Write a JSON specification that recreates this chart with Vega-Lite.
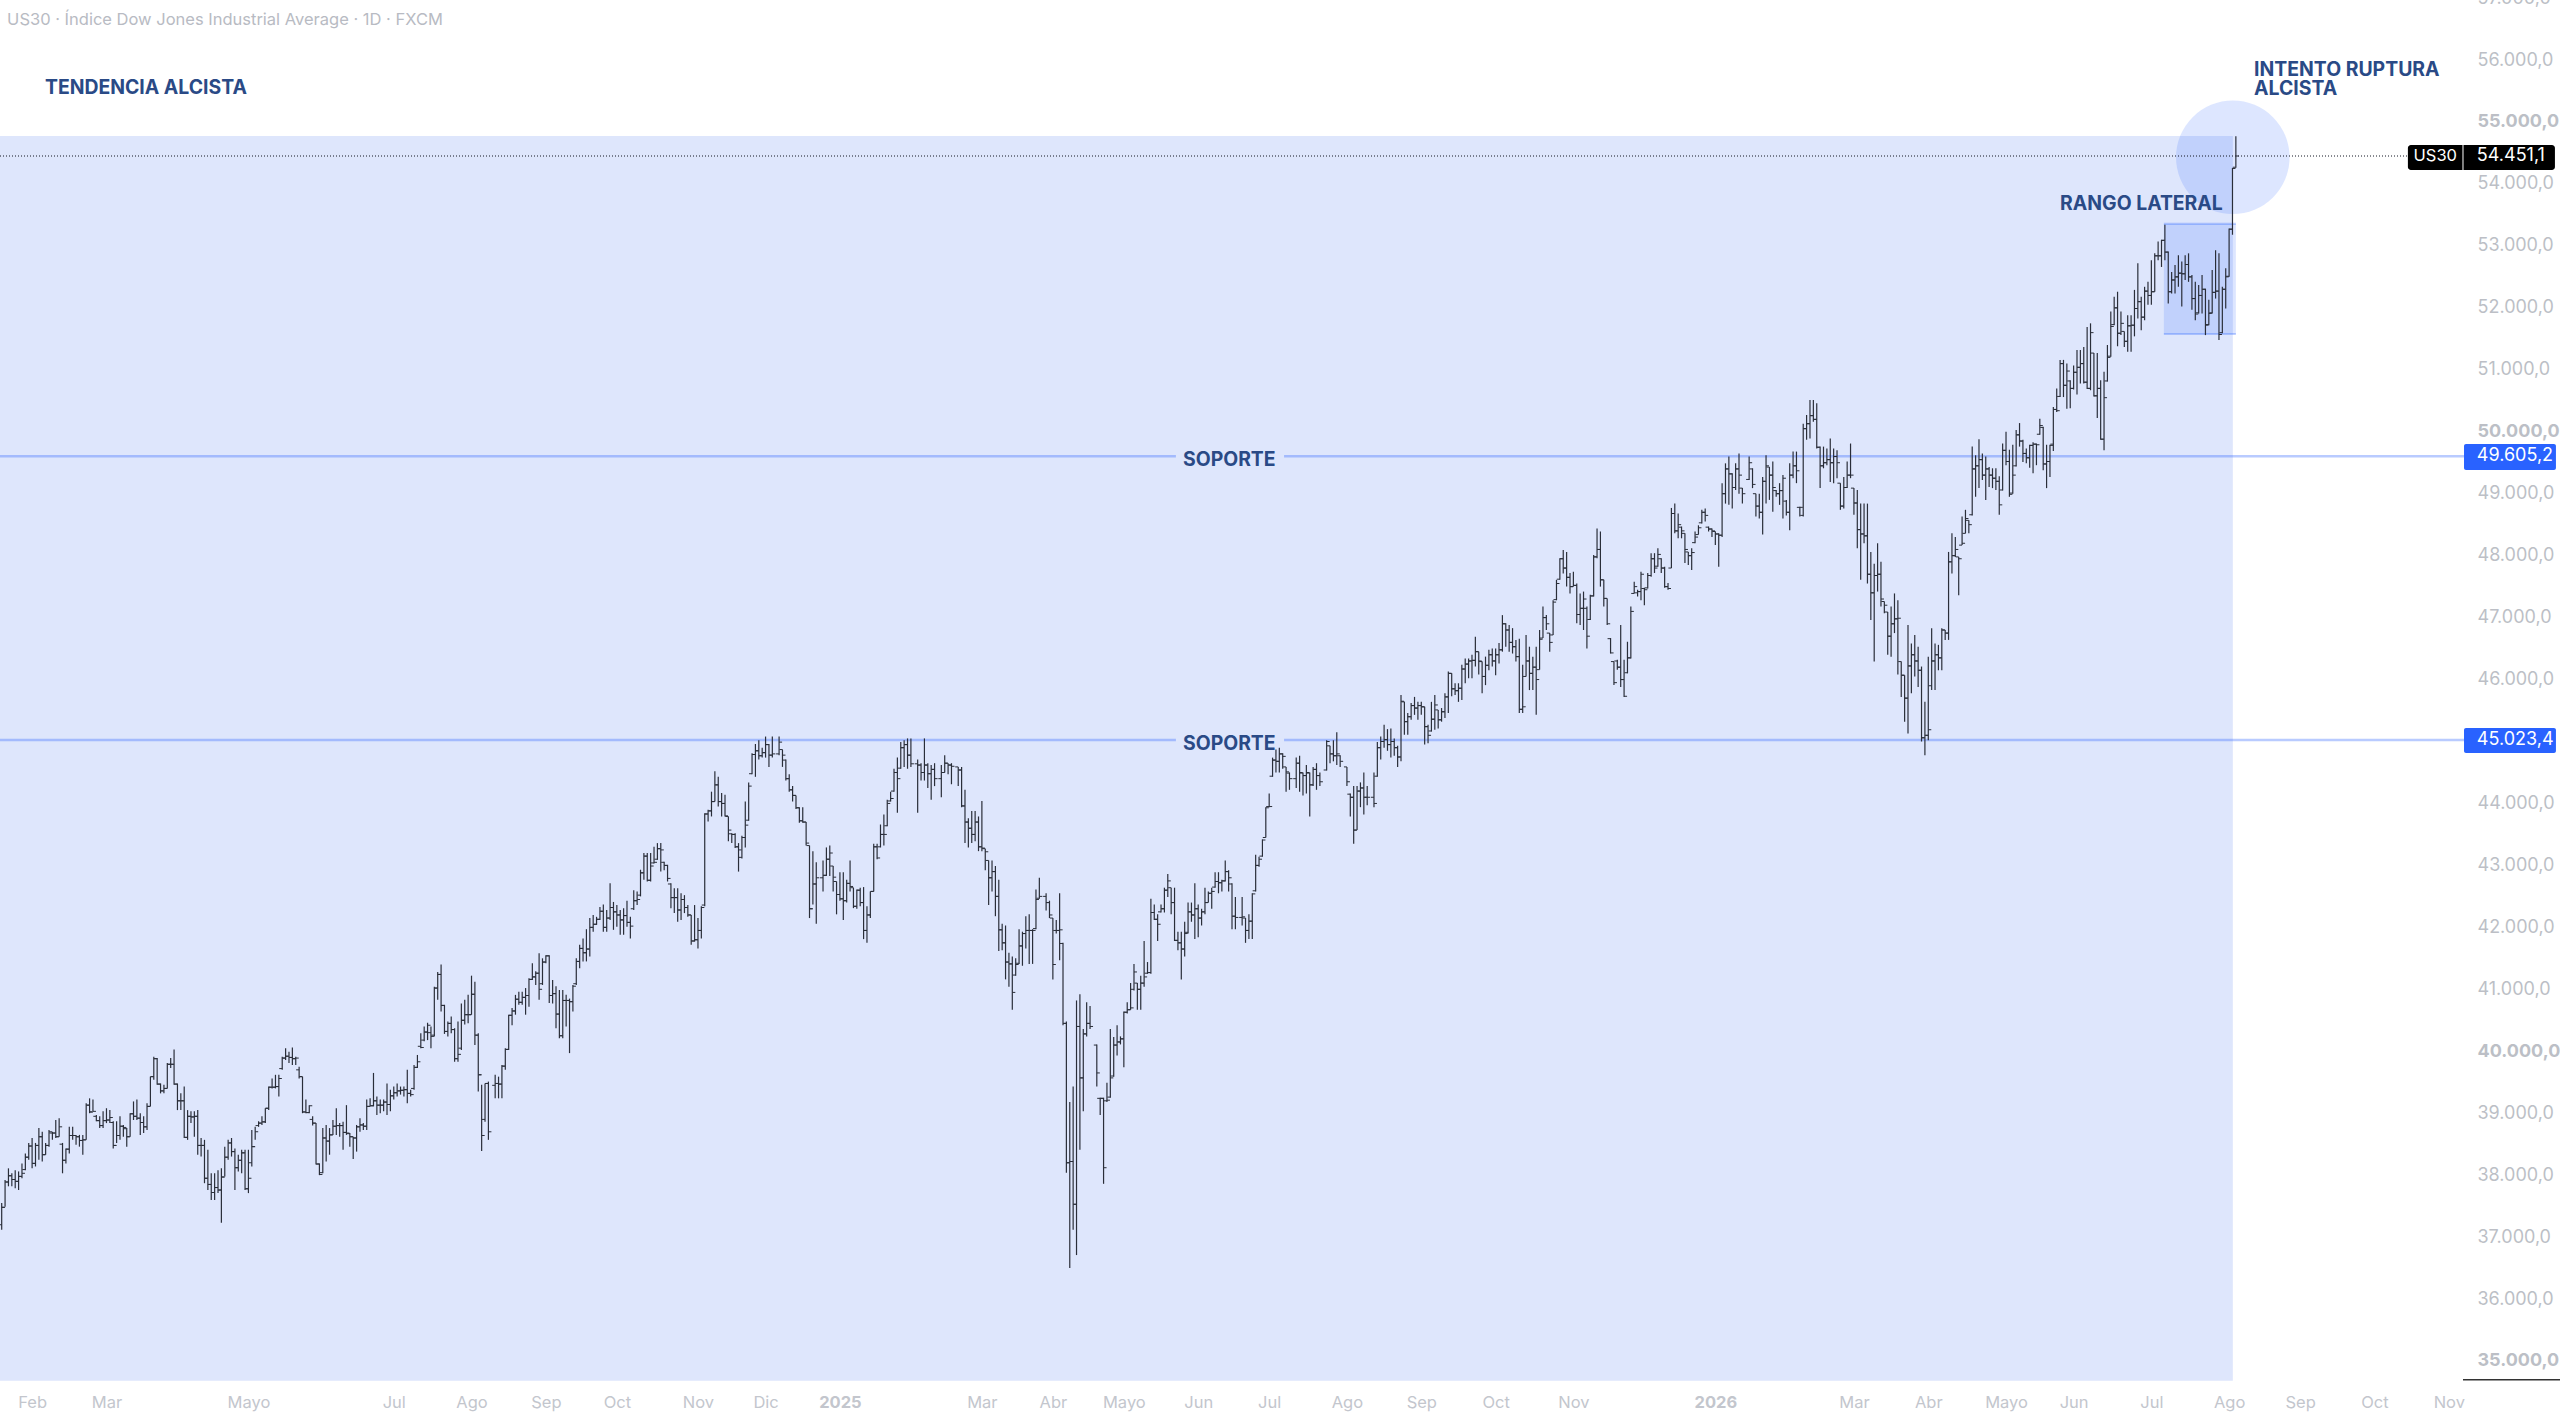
{
"$schema":"https://vega.github.io/schema/vega-lite/v6.json",
"width":2560,"height":1417,"padding":0,"autosize":{"type":"none"},
"background":"#ffffff",
"config":{"view":{"stroke":null},"font":"Inter"},
"datasets":{
"bars":[
{"b":0,"o":37200,"h":37550,"l":37120,"c":37480},
{"b":1,"o":37480,"h":37920,"l":37490,"c":37890},
{"b":2,"o":37890,"h":38110,"l":37820,"c":37990},
{"b":3,"o":37990,"h":38030,"l":37820,"c":37930},
{"b":4,"o":37930,"h":38080,"l":37790,"c":37900},
{"b":5,"o":37900,"h":38060,"l":37760,"c":37980},
{"b":6,"o":37980,"h":38190,"l":37950,"c":38030},
{"b":7,"o":38090,"h":38350,"l":38080,"c":38290},
{"b":8,"o":38290,"h":38520,"l":38250,"c":38470},
{"b":9,"o":38470,"h":38600,"l":38110,"c":38190},
{"b":10,"o":38190,"h":38520,"l":38140,"c":38480},
{"b":11,"o":38480,"h":38760,"l":38250,"c":38620},
{"b":12,"o":38620,"h":38700,"l":38220,"c":38330},
{"b":13,"o":38330,"h":38520,"l":38330,"c":38480},
{"b":14,"o":38480,"h":38730,"l":38460,"c":38700},
{"b":15,"o":38680,"h":38700,"l":38570,"c":38680},
{"b":16,"o":38680,"h":38890,"l":38600,"c":38620},
{"b":17,"o":38620,"h":38920,"l":38620,"c":38780},
{"b":18,"o":38500,"h":38520,"l":38030,"c":38240},
{"b":19,"o":38240,"h":38430,"l":38190,"c":38420},
{"b":20,"o":38420,"h":38780,"l":38350,"c":38640},
{"b":21,"o":38640,"h":38780,"l":38570,"c":38640},
{"b":22,"o":38640,"h":38650,"l":38490,"c":38620},
{"b":23,"o":38620,"h":38650,"l":38460,"c":38560},
{"b":24,"o":38560,"h":38650,"l":38330,"c":38570},
{"b":25,"o":38570,"h":39160,"l":38570,"c":39130},
{"b":26,"o":39130,"h":39240,"l":39000,"c":39020},
{"b":27,"o":39020,"h":39220,"l":39030,"c":39030},
{"b":28,"o":38950,"h":38970,"l":38870,"c":38880},
{"b":29,"o":38880,"h":38950,"l":38760,"c":38800},
{"b":30,"o":38800,"h":39030,"l":38760,"c":38880},
{"b":31,"o":38880,"h":39080,"l":38840,"c":38890},
{"b":32,"o":38890,"h":39050,"l":38840,"c":38930},
{"b":33,"o":38850,"h":38870,"l":38430,"c":38480},
{"b":34,"o":38480,"h":38870,"l":38520,"c":38640},
{"b":35,"o":38640,"h":38950,"l":38570,"c":38790},
{"b":36,"o":38790,"h":38810,"l":38620,"c":38770},
{"b":37,"o":38750,"h":38760,"l":38460,"c":38620},
{"b":38,"o":38620,"h":39000,"l":38620,"c":38990},
{"b":39,"o":38990,"h":39190,"l":38890,"c":38950},
{"b":40,"o":38950,"h":39220,"l":38890,"c":38920},
{"b":41,"o":38920,"h":39000,"l":38650,"c":38850},
{"b":42,"o":38850,"h":38950,"l":38680,"c":38780},
{"b":43,"o":38780,"h":39160,"l":38730,"c":39110},
{"b":44,"o":39110,"h":39590,"l":39110,"c":39590},
{"b":45,"o":39590,"h":39910,"l":39540,"c":39880},
{"b":46,"o":39880,"h":39890,"l":39460,"c":39470},
{"b":47,"o":39470,"h":39480,"l":39320,"c":39360},
{"b":48,"o":39360,"h":39460,"l":39320,"c":39400},
{"b":49,"o":39400,"h":39810,"l":39400,"c":39790},
{"b":50,"o":39790,"h":39890,"l":39730,"c":39790},
{"b":51,"o":39790,"h":40030,"l":39460,"c":39470},
{"b":52,"o":39470,"h":39480,"l":39050,"c":39200},
{"b":53,"o":39200,"h":39320,"l":39050,"c":39200},
{"b":54,"o":39200,"h":39430,"l":38600,"c":38610},
{"b":55,"o":38610,"h":39050,"l":38570,"c":38950},
{"b":56,"o":38950,"h":39030,"l":38840,"c":38940},
{"b":57,"o":38940,"h":39030,"l":38620,"c":38950},
{"b":58,"o":38950,"h":39050,"l":38330,"c":38480},
{"b":59,"o":38480,"h":38600,"l":38300,"c":38480},
{"b":60,"o":38480,"h":38570,"l":37870,"c":37950},
{"b":61,"o":37950,"h":38410,"l":37760,"c":37850},
{"b":62,"o":37850,"h":38030,"l":37600,"c":37720},
{"b":63,"o":37720,"h":38030,"l":37600,"c":37800},
{"b":64,"o":37800,"h":38080,"l":37710,"c":37760},
{"b":65,"o":37760,"h":38110,"l":37230,"c":37970},
{"b":66,"o":37970,"h":38460,"l":37980,"c":38290},
{"b":67,"o":38290,"h":38570,"l":38250,"c":38520},
{"b":68,"o":38520,"h":38600,"l":38300,"c":38380},
{"b":69,"o":38380,"h":38430,"l":37760,"c":38120},
{"b":70,"o":38120,"h":38330,"l":38060,"c":38240},
{"b":71,"o":38240,"h":38410,"l":38030,"c":38360},
{"b":72,"o":38360,"h":38410,"l":37760,"c":37780},
{"b":73,"o":37780,"h":38410,"l":37710,"c":37950},
{"b":74,"o":38200,"h":38730,"l":38140,"c":38460},
{"b":75,"o":38460,"h":38780,"l":38570,"c":38700},
{"b":76,"o":38800,"h":38870,"l":38780,"c":38840},
{"b":77,"o":38840,"h":38950,"l":38810,"c":38860},
{"b":78,"o":38860,"h":39080,"l":38840,"c":39080},
{"b":79,"o":39080,"h":39430,"l":39050,"c":39420},
{"b":80,"o":39420,"h":39560,"l":39400,"c":39420},
{"b":81,"o":39420,"h":39620,"l":39400,"c":39430},
{"b":82,"o":39430,"h":39620,"l":39270,"c":39560},
{"b":83,"o":39720,"h":39910,"l":39700,"c":39890},
{"b":84,"o":39890,"h":40050,"l":39860,"c":39920},
{"b":85,"o":39920,"h":39990,"l":39810,"c":39900},
{"b":86,"o":39900,"h":40060,"l":39780,"c":39880},
{"b":87,"o":39880,"h":39910,"l":39780,"c":39890},
{"b":88,"o":39700,"h":39750,"l":39560,"c":39590},
{"b":89,"o":39590,"h":39590,"l":39000,"c":39020},
{"b":90,"o":39020,"h":39220,"l":39000,"c":39010},
{"b":91,"o":39010,"h":39130,"l":39000,"c":39120},
{"b":92,"o":38900,"h":38950,"l":38800,"c":38840},
{"b":93,"o":38840,"h":38840,"l":38170,"c":38180},
{"b":94,"o":38180,"h":38190,"l":38000,"c":38010},
{"b":95,"o":38040,"h":38760,"l":38030,"c":38600},
{"b":96,"o":38600,"h":38810,"l":38220,"c":38550},
{"b":97,"o":38550,"h":38760,"l":38330,"c":38650},
{"b":98,"o":38650,"h":38890,"l":38650,"c":38790},
{"b":99,"o":38790,"h":39080,"l":38650,"c":38800},
{"b":100,"o":38800,"h":38840,"l":38620,"c":38800},
{"b":101,"o":38800,"h":38860,"l":38410,"c":38690},
{"b":102,"o":38690,"h":39130,"l":38650,"c":38680},
{"b":103,"o":38670,"h":38680,"l":38460,"c":38620},
{"b":104,"o":38620,"h":38620,"l":38260,"c":38600},
{"b":105,"o":38600,"h":38810,"l":38380,"c":38780},
{"b":106,"o":38780,"h":38920,"l":38700,"c":38810},
{"b":107,"o":38810,"h":38840,"l":38730,"c":38790},
{"b":108,"o":38790,"h":39220,"l":38730,"c":39110},
{"b":109,"o":39110,"h":39240,"l":39110,"c":39120},
{"b":110,"o":39120,"h":39650,"l":39110,"c":39200},
{"b":111,"o":39200,"h":39270,"l":38970,"c":39130},
{"b":112,"o":39130,"h":39220,"l":39000,"c":39130},
{"b":113,"o":39130,"h":39220,"l":39030,"c":39180},
{"b":114,"o":39180,"h":39480,"l":38970,"c":39140},
{"b":115,"o":39140,"h":39380,"l":39030,"c":39280},
{"b":116,"o":39280,"h":39430,"l":39220,"c":39330},
{"b":117,"o":39330,"h":39480,"l":39270,"c":39360},
{"b":118,"o":39360,"h":39430,"l":39300,"c":39370},
{"b":119,"o":39370,"h":39430,"l":39270,"c":39380},
{"b":120,"o":39380,"h":39700,"l":39160,"c":39320},
{"b":121,"o":39320,"h":39380,"l":39270,"c":39300},
{"b":122,"o":39400,"h":39780,"l":39380,"c":39740},
{"b":123,"o":39740,"h":39940,"l":39730,"c":39830},
{"b":124,"o":40080,"h":40290,"l":40050,"c":40060},
{"b":125,"o":40180,"h":40400,"l":40160,"c":40310},
{"b":126,"o":40310,"h":40460,"l":40180,"c":40420},
{"b":127,"o":40300,"h":40400,"l":40050,"c":40240},
{"b":128,"o":40260,"h":41040,"l":40240,"c":41020},
{"b":129,"o":41020,"h":41280,"l":40830,"c":41240},
{"b":130,"o":41240,"h":41400,"l":40640,"c":40740},
{"b":131,"o":40740,"h":40750,"l":40280,"c":40320},
{"b":132,"o":40320,"h":40480,"l":40240,"c":40450},
{"b":133,"o":40450,"h":40560,"l":40290,"c":40350},
{"b":134,"o":40350,"h":40370,"l":39830,"c":39880},
{"b":135,"o":39880,"h":40480,"l":39830,"c":39950},
{"b":136,"o":40050,"h":40770,"l":40020,"c":40500},
{"b":137,"o":40500,"h":40830,"l":40430,"c":40590},
{"b":138,"o":40590,"h":40910,"l":40450,"c":40590},
{"b":139,"o":40590,"h":41220,"l":40590,"c":40920},
{"b":140,"o":40920,"h":41120,"l":40100,"c":40260},
{"b":141,"o":40260,"h":40290,"l":39350,"c":39620},
{"b":142,"o":39620,"h":39460,"l":38390,"c":38640},
{"b":143,"o":38900,"h":39480,"l":38860,"c":39480},
{"b":144,"o":39480,"h":39510,"l":38570,"c":38700},
{"b":146,"o":39450,"h":39620,"l":39240,"c":39480},
{"b":147,"o":39480,"h":39590,"l":39240,"c":39470},
{"b":148,"o":39470,"h":39780,"l":39240,"c":39760},
{"b":149,"o":39760,"h":40050,"l":39700,"c":40030},
{"b":150,"o":40030,"h":40590,"l":40020,"c":40580},
{"b":151,"o":40580,"h":40700,"l":40420,"c":40650},
{"b":152,"o":40650,"h":40910,"l":40590,"c":40840},
{"b":153,"o":40840,"h":40960,"l":40750,"c":40790},
{"b":154,"o":40790,"h":40960,"l":40750,"c":40870},
{"b":155,"o":40870,"h":41020,"l":40590,"c":40900},
{"b":156,"o":40900,"h":41180,"l":40720,"c":41160},
{"b":157,"o":41160,"h":41420,"l":41150,"c":41200},
{"b":158,"o":41200,"h":41290,"l":41070,"c":41260},
{"b":159,"o":41260,"h":41580,"l":40830,"c":41000},
{"b":160,"o":41090,"h":41500,"l":41070,"c":41440},
{"b":161,"o":41440,"h":41550,"l":41420,"c":41540},
{"b":162,"o":41540,"h":41550,"l":40780,"c":40900},
{"b":163,"o":40900,"h":41150,"l":40770,"c":40930},
{"b":164,"o":40930,"h":41050,"l":40370,"c":40600},
{"b":165,"o":40600,"h":40990,"l":40210,"c":40250},
{"b":166,"o":40250,"h":40990,"l":40210,"c":40820},
{"b":167,"o":40820,"h":40910,"l":40400,"c":40820},
{"b":168,"o":40820,"h":40850,"l":39970,"c":40800},
{"b":169,"o":40800,"h":41070,"l":40640,"c":41050},
{"b":170,"o":41090,"h":41500,"l":41070,"c":41450},
{"b":171,"o":41450,"h":41720,"l":41340,"c":41660},
{"b":172,"o":41660,"h":41820,"l":41450,"c":41590},
{"b":173,"o":41590,"h":41970,"l":41450,"c":41650},
{"b":174,"o":41650,"h":42150,"l":41530,"c":42000},
{"b":175,"o":42000,"h":42200,"l":41930,"c":42050},
{"b":176,"o":42050,"h":42170,"l":42040,"c":42130},
{"b":177,"o":42130,"h":42330,"l":42120,"c":42260},
{"b":178,"o":42260,"h":42370,"l":41930,"c":42000},
{"b":179,"o":42000,"h":42280,"l":41930,"c":42150},
{"b":180,"o":42150,"h":42710,"l":42120,"c":42320},
{"b":181,"o":42320,"h":42410,"l":41960,"c":42250},
{"b":182,"o":42250,"h":42360,"l":42010,"c":42200},
{"b":183,"o":42200,"h":42280,"l":41880,"c":42120},
{"b":184,"o":42120,"h":42310,"l":41880,"c":42190},
{"b":185,"o":42190,"h":42430,"l":42010,"c":42080},
{"b":186,"o":42080,"h":42170,"l":41820,"c":42020},
{"b":187,"o":42300,"h":42600,"l":42280,"c":42430},
{"b":188,"o":42430,"h":42580,"l":42360,"c":42450},
{"b":189,"o":42520,"h":42930,"l":42500,"c":42880},
{"b":190,"o":42880,"h":43200,"l":42770,"c":43150},
{"b":191,"o":43150,"h":43200,"l":42740,"c":42760},
{"b":192,"o":42760,"h":43200,"l":42740,"c":42990},
{"b":193,"o":43040,"h":43300,"l":43030,"c":43050},
{"b":194,"o":43100,"h":43360,"l":43090,"c":43270},
{"b":195,"o":43270,"h":43360,"l":42900,"c":43250},
{"b":196,"o":43050,"h":43060,"l":42920,"c":43000},
{"b":197,"o":43000,"h":43010,"l":42740,"c":42790},
{"b":198,"o":42700,"h":42710,"l":42310,"c":42480},
{"b":199,"o":42480,"h":42630,"l":42230,"c":42480},
{"b":200,"o":42480,"h":42630,"l":42090,"c":42280},
{"b":201,"o":42280,"h":42550,"l":42120,"c":42450},
{"b":202,"o":42450,"h":42520,"l":42230,"c":42320},
{"b":203,"o":42320,"h":42360,"l":42170,"c":42200},
{"b":204,"o":42200,"h":42200,"l":41720,"c":41780},
{"b":205,"o":41780,"h":42360,"l":41770,"c":41800},
{"b":206,"o":41800,"h":42150,"l":41660,"c":41950},
{"b":207,"o":41950,"h":42340,"l":41820,"c":42320},
{"b":208,"o":42360,"h":43840,"l":42340,"c":43830},
{"b":209,"o":43830,"h":43900,"l":43710,"c":43880},
{"b":210,"o":43880,"h":44190,"l":43790,"c":44030},
{"b":211,"o":44030,"h":44520,"l":44030,"c":44300},
{"b":212,"o":44300,"h":44430,"l":43950,"c":44030},
{"b":213,"o":44030,"h":44170,"l":43790,"c":44000},
{"b":214,"o":44000,"h":44140,"l":43790,"c":43800},
{"b":215,"o":43790,"h":43790,"l":43390,"c":43570},
{"b":216,"o":43510,"h":43520,"l":43360,"c":43500},
{"b":217,"o":43500,"h":43520,"l":43280,"c":43300},
{"b":218,"o":43300,"h":43360,"l":42900,"c":43250},
{"b":219,"o":43130,"h":43480,"l":43110,"c":43450},
{"b":220,"o":43450,"h":44030,"l":43290,"c":43650},
{"b":221,"o":43730,"h":44340,"l":43720,"c":44280},
{"b":222,"o":44480,"h":44810,"l":44470,"c":44790},
{"b":223,"o":44790,"h":44960,"l":44430,"c":44850},
{"b":224,"o":44850,"h":45020,"l":44710,"c":44770},
{"b":225,"o":44770,"h":44900,"l":44740,"c":44820},
{"b":226,"o":44820,"h":45080,"l":44740,"c":44950},
{"b":227,"o":44950,"h":44960,"l":44590,"c":44780},
{"b":228,"o":44780,"h":45080,"l":44740,"c":44800},
{"b":230,"o":44800,"h":45080,"l":44780,"c":44990},
{"b":231,"o":44870,"h":44870,"l":44590,"c":44780},
{"b":232,"o":44700,"h":44710,"l":44370,"c":44400},
{"b":233,"o":44400,"h":44470,"l":44190,"c":44220},
{"b":234,"o":44220,"h":44280,"l":44030,"c":44130},
{"b":235,"o":44130,"h":44130,"l":43910,"c":43930},
{"b":236,"o":43930,"h":43940,"l":43690,"c":43720},
{"b":237,"o":43720,"h":43940,"l":43690,"c":43700},
{"b":238,"o":43700,"h":43700,"l":43320,"c":43360},
{"b":239,"o":43320,"h":43320,"l":42150,"c":42300},
{"b":240,"o":42300,"h":43230,"l":42370,"c":42700},
{"b":241,"o":42700,"h":43050,"l":42060,"c":42800},
{"b":243,"o":42800,"h":43080,"l":42580,"c":42840},
{"b":244,"o":42840,"h":43290,"l":42830,"c":43100},
{"b":245,"o":43100,"h":43320,"l":42830,"c":43200},
{"b":246,"o":42990,"h":42990,"l":42580,"c":42810},
{"b":247,"o":42740,"h":42740,"l":42210,"c":42530},
{"b":248,"o":42530,"h":42890,"l":42430,"c":42460},
{"b":249,"o":42460,"h":42890,"l":42120,"c":42430},
{"b":250,"o":42430,"h":42770,"l":42400,"c":42710},
{"b":251,"o":42710,"h":43080,"l":42580,"c":42660},
{"b":252,"o":42640,"h":42640,"l":42310,"c":42340},
{"b":253,"o":42340,"h":42610,"l":42300,"c":42600},
{"b":254,"o":42600,"h":42640,"l":42340,"c":42400},
{"b":255,"o":42400,"h":42650,"l":41810,"c":41950},
{"b":256,"o":41950,"h":42340,"l":41750,"c":42200},
{"b":257,"o":42200,"h":42580,"l":42150,"c":42580},
{"b":258,"o":42580,"h":43350,"l":42580,"c":43300},
{"b":259,"o":43300,"h":43350,"l":43100,"c":43120},
{"b":260,"o":43300,"h":43660,"l":43290,"c":43500},
{"b":261,"o":43500,"h":43820,"l":43320,"c":43500},
{"b":262,"o":43640,"h":44060,"l":43630,"c":44000},
{"b":263,"o":44040,"h":44190,"l":44030,"c":44080},
{"b":264,"o":44200,"h":44560,"l":44190,"c":44500},
{"b":265,"o":44500,"h":44740,"l":43850,"c":44400},
{"b":266,"o":44570,"h":44990,"l":44560,"c":44900},
{"b":267,"o":44900,"h":45020,"l":44590,"c":44950},
{"b":268,"o":44950,"h":45050,"l":44560,"c":44780},
{"b":269,"o":44780,"h":45050,"l":44590,"c":44640},
{"b":271,"o":44640,"h":44710,"l":43850,"c":44620},
{"b":272,"o":44620,"h":44650,"l":44370,"c":44500},
{"b":273,"o":44500,"h":45050,"l":44370,"c":44620},
{"b":274,"o":44620,"h":44650,"l":44250,"c":44480},
{"b":275,"o":44480,"h":44620,"l":44060,"c":44550},
{"b":276,"o":44550,"h":44650,"l":44280,"c":44400},
{"b":278,"o":44400,"h":44620,"l":44100,"c":44500},
{"b":279,"o":44500,"h":44780,"l":44500,"c":44650},
{"b":280,"o":44650,"h":44650,"l":44470,"c":44620},
{"b":281,"o":44620,"h":44650,"l":44310,"c":44600},
{"b":283,"o":44590,"h":44590,"l":44280,"c":44540},
{"b":284,"o":44540,"h":44590,"l":43940,"c":43960},
{"b":285,"o":43960,"h":44220,"l":43360,"c":43700},
{"b":286,"o":43700,"h":43760,"l":43290,"c":43600},
{"b":287,"o":43600,"h":43880,"l":43360,"c":43500},
{"b":288,"o":43500,"h":43880,"l":43390,"c":43700},
{"b":289,"o":43700,"h":43790,"l":43230,"c":43300},
{"b":290,"o":43300,"h":44040,"l":43230,"c":43280},
{"b":291,"o":43270,"h":43270,"l":42920,"c":43220},
{"b":292,"o":43080,"h":43080,"l":42360,"c":42800},
{"b":293,"o":42800,"h":43080,"l":42580,"c":42900},
{"b":294,"o":42900,"h":42990,"l":42180,"c":42500},
{"b":295,"o":42500,"h":42770,"l":41620,"c":41960},
{"b":296,"o":41960,"h":42060,"l":41630,"c":41750},
{"b":297,"o":41750,"h":42030,"l":41160,"c":41440},
{"b":298,"o":41440,"h":41590,"l":41040,"c":41410},
{"b":299,"o":41410,"h":41530,"l":40670,"c":40950},
{"b":300,"o":41230,"h":41500,"l":41220,"c":41400},
{"b":301,"o":41420,"h":41970,"l":41410,"c":41700},
{"b":302,"o":41700,"h":41930,"l":41380,"c":41900},
{"b":303,"o":41900,"h":42180,"l":41660,"c":41950},
{"b":304,"o":41950,"h":42210,"l":41410,"c":41950},
{"b":305,"o":41950,"h":41970,"l":41410,"c":41950},
{"b":306,"o":41980,"h":42610,"l":41970,"c":42450},
{"b":307,"o":42470,"h":42800,"l":42460,"c":42500},
{"b":309,"o":42500,"h":42550,"l":42270,"c":42400},
{"b":310,"o":42400,"h":42430,"l":42150,"c":42200},
{"b":311,"o":42150,"h":42150,"l":41160,"c":41400},
{"b":312,"o":41950,"h":42120,"l":41900,"c":41950},
{"b":313,"o":41950,"h":42550,"l":41470,"c":41960},
{"b":314,"o":41740,"h":41750,"l":40420,"c":40450},
{"b":315,"o":40450,"h":40480,"l":38040,"c":38200},
{"b":316,"o":38200,"h":39180,"l":36500,"c":38220},
{"b":317,"o":38220,"h":39430,"l":37120,"c":37530},
{"b":318,"o":37530,"h":40820,"l":36710,"c":40400},
{"b":319,"o":40400,"h":40920,"l":38410,"c":39570},
{"b":320,"o":39570,"h":40360,"l":39030,"c":40280},
{"b":321,"o":40280,"h":40790,"l":40240,"c":40450},
{"b":322,"o":40450,"h":40730,"l":40360,"c":40400},
{"b":324,"o":40100,"h":40110,"l":39430,"c":39650},
{"b":325,"o":39240,"h":39250,"l":38970,"c":39240},
{"b":326,"o":39240,"h":39250,"l":37860,"c":38120},
{"b":327,"o":39200,"h":39490,"l":39180,"c":39210},
{"b":328,"o":39260,"h":40360,"l":39250,"c":39570},
{"b":329,"o":39600,"h":40230,"l":39590,"c":40100},
{"b":330,"o":40100,"h":40420,"l":39930,"c":40150},
{"b":331,"o":40150,"h":40240,"l":40110,"c":40200},
{"b":332,"o":40200,"h":40640,"l":39740,"c":40630},
{"b":333,"o":40630,"h":40790,"l":40610,"c":40670},
{"b":334,"o":40670,"h":41100,"l":40670,"c":40700},
{"b":335,"o":41000,"h":41410,"l":40980,"c":41280},
{"b":336,"o":41100,"h":41100,"l":40670,"c":41000},
{"b":337,"o":41000,"h":41220,"l":40670,"c":41100},
{"b":338,"o":41100,"h":41780,"l":41040,"c":41200},
{"b":339,"o":41260,"h":41440,"l":41250,"c":41270},
{"b":340,"o":41270,"h":42460,"l":41250,"c":42240},
{"b":341,"o":42240,"h":42370,"l":42120,"c":42130},
{"b":342,"o":42130,"h":42210,"l":41780,"c":42050},
{"b":343,"o":42250,"h":42370,"l":42240,"c":42300},
{"b":344,"o":42300,"h":42640,"l":42240,"c":42600},
{"b":345,"o":42600,"h":42860,"l":42490,"c":42750},
{"b":346,"o":42640,"h":42640,"l":42210,"c":42400},
{"b":347,"o":42400,"h":42640,"l":41780,"c":41790},
{"b":348,"o":41790,"h":41930,"l":41630,"c":41750},
{"b":349,"o":41750,"h":41930,"l":41160,"c":41650},
{"b":350,"o":41650,"h":42090,"l":41530,"c":41900},
{"b":351,"o":41920,"h":42400,"l":41900,"c":42250},
{"b":352,"o":42250,"h":42400,"l":42090,"c":42200},
{"b":353,"o":42200,"h":42710,"l":41810,"c":42300},
{"b":354,"o":42300,"h":42370,"l":41840,"c":42150},
{"b":355,"o":42150,"h":42300,"l":42030,"c":42250},
{"b":356,"o":42250,"h":42640,"l":42210,"c":42400},
{"b":357,"o":42400,"h":42580,"l":42400,"c":42550},
{"b":358,"o":42550,"h":42640,"l":42300,"c":42580},
{"b":359,"o":42650,"h":42890,"l":42640,"c":42740},
{"b":360,"o":42740,"h":42890,"l":42550,"c":42720},
{"b":361,"o":42720,"h":42770,"l":42580,"c":42750},
{"b":362,"o":42750,"h":43080,"l":42740,"c":42900},
{"b":363,"o":42900,"h":42920,"l":42580,"c":42800},
{"b":364,"o":42700,"h":42710,"l":41970,"c":42180},
{"b":365,"o":42180,"h":42490,"l":41970,"c":42160},
{"b":367,"o":42160,"h":42490,"l":42030,"c":42170},
{"b":368,"o":42150,"h":42150,"l":41750,"c":41950},
{"b":369,"o":41950,"h":42210,"l":41810,"c":42100},
{"b":370,"o":42100,"h":42550,"l":41810,"c":42540},
{"b":371,"o":42590,"h":43170,"l":42580,"c":43000},
{"b":372,"o":43000,"h":43140,"l":42980,"c":43100},
{"b":373,"o":43150,"h":43420,"l":43140,"c":43410},
{"b":374,"o":43450,"h":43940,"l":43450,"c":43930},
{"b":375,"o":43950,"h":44160,"l":43940,"c":43950},
{"b":376,"o":44440,"h":44740,"l":44430,"c":44700},
{"b":377,"o":44700,"h":44870,"l":44500,"c":44680},
{"b":378,"o":44680,"h":44900,"l":44500,"c":44800},
{"b":379,"o":44800,"h":44810,"l":44560,"c":44760},
{"b":380,"o":44590,"h":44590,"l":44190,"c":44510},
{"b":381,"o":44490,"h":44500,"l":44220,"c":44400},
{"b":383,"o":44400,"h":44740,"l":44250,"c":44650},
{"b":384,"o":44650,"h":44770,"l":44190,"c":44500},
{"b":385,"o":44490,"h":44500,"l":44130,"c":44450},
{"b":386,"o":44450,"h":44620,"l":44160,"c":44500},
{"b":387,"o":44490,"h":44500,"l":43790,"c":44300},
{"b":388,"o":44300,"h":44590,"l":44280,"c":44550},
{"b":389,"o":44550,"h":44650,"l":44220,"c":44450},
{"b":390,"o":44450,"h":44500,"l":44280,"c":44350},
{"b":392,"o":44540,"h":45020,"l":44530,"c":45000},
{"b":393,"o":44930,"h":44930,"l":44650,"c":44800},
{"b":394,"o":44800,"h":45020,"l":44680,"c":44770},
{"b":395,"o":44770,"h":45150,"l":44620,"c":44800},
{"b":396,"o":44770,"h":44780,"l":44590,"c":44680},
{"b":398,"o":44590,"h":44590,"l":44280,"c":44350},
{"b":399,"o":44150,"h":44160,"l":43790,"c":44100},
{"b":400,"o":44100,"h":44280,"l":43350,"c":43570},
{"b":401,"o":43570,"h":44280,"l":43570,"c":44200},
{"b":402,"o":44200,"h":44340,"l":43940,"c":44250},
{"b":403,"o":44250,"h":44500,"l":43820,"c":44100},
{"b":404,"o":44100,"h":44280,"l":43970,"c":44100},
{"b":406,"o":44100,"h":44500,"l":43940,"c":44000},
{"b":407,"o":44440,"h":44990,"l":44430,"c":44900},
{"b":408,"o":44900,"h":45080,"l":44710,"c":45000},
{"b":409,"o":45000,"h":45270,"l":44900,"c":45030},
{"b":410,"o":45030,"h":45200,"l":44850,"c":44950},
{"b":411,"o":44950,"h":45210,"l":44740,"c":45000},
{"b":412,"o":45000,"h":45050,"l":44770,"c":44900},
{"b":413,"o":44900,"h":44930,"l":44590,"c":44750},
{"b":414,"o":44750,"h":45750,"l":44680,"c":45650},
{"b":415,"o":45640,"h":45640,"l":45110,"c":45320},
{"b":416,"o":45320,"h":45460,"l":45110,"c":45400},
{"b":417,"o":45400,"h":45620,"l":45350,"c":45580},
{"b":418,"o":45580,"h":45720,"l":45430,"c":45540},
{"b":419,"o":45540,"h":45640,"l":45350,"c":45580},
{"b":420,"o":45580,"h":45640,"l":45430,"c":45560},
{"b":421,"o":45560,"h":45560,"l":44950,"c":45240},
{"b":422,"o":45240,"h":45270,"l":44970,"c":45100},
{"b":423,"o":45170,"h":45640,"l":45160,"c":45360},
{"b":424,"o":45360,"h":45750,"l":45190,"c":45590},
{"b":425,"o":45510,"h":45510,"l":45210,"c":45350},
{"b":426,"o":45350,"h":45540,"l":45320,"c":45480},
{"b":427,"o":45480,"h":45780,"l":45380,"c":45720},
{"b":428,"o":45720,"h":46130,"l":45460,"c":46100},
{"b":429,"o":46100,"h":46100,"l":45730,"c":45850},
{"b":430,"o":45850,"h":45940,"l":45750,"c":45820},
{"b":431,"o":45820,"h":45940,"l":45640,"c":45860},
{"b":432,"o":45860,"h":46240,"l":45670,"c":46170},
{"b":433,"o":46170,"h":46340,"l":45940,"c":46250},
{"b":434,"o":46250,"h":46340,"l":46020,"c":46300},
{"b":435,"o":46300,"h":46400,"l":46020,"c":46310},
{"b":436,"o":46310,"h":46690,"l":46210,"c":46450},
{"b":437,"o":46450,"h":46450,"l":46080,"c":46300},
{"b":438,"o":46290,"h":46290,"l":45780,"c":46050},
{"b":439,"o":46050,"h":46370,"l":45910,"c":46230},
{"b":440,"o":46230,"h":46480,"l":46150,"c":46400},
{"b":441,"o":46400,"h":46500,"l":46210,"c":46300},
{"b":442,"o":46300,"h":46500,"l":46070,"c":46400},
{"b":443,"o":46400,"h":46590,"l":46260,"c":46480},
{"b":444,"o":46480,"h":47040,"l":46450,"c":46900},
{"b":445,"o":46900,"h":46910,"l":46530,"c":46800},
{"b":446,"o":46800,"h":46880,"l":46450,"c":46600},
{"b":447,"o":46600,"h":46830,"l":46420,"c":46530},
{"b":448,"o":46530,"h":46640,"l":46290,"c":46370},
{"b":449,"o":46370,"h":46660,"l":45460,"c":45520},
{"b":450,"o":45520,"h":46240,"l":45460,"c":45560},
{"b":451,"o":46050,"h":46720,"l":46050,"c":46300},
{"b":452,"o":46300,"h":46530,"l":45830,"c":46100},
{"b":453,"o":46100,"h":46370,"l":45830,"c":46200},
{"b":454,"o":46200,"h":46530,"l":45430,"c":46000},
{"b":455,"o":46160,"h":46800,"l":46160,"c":46650},
{"b":456,"o":46670,"h":47180,"l":46670,"c":47000},
{"b":457,"o":47000,"h":47040,"l":46800,"c":46900},
{"b":458,"o":46750,"h":46750,"l":46450,"c":46600},
{"b":459,"o":46720,"h":47280,"l":46720,"c":47250},
{"b":460,"o":47290,"h":47610,"l":47280,"c":47550},
{"b":461,"o":47620,"h":47960,"l":47610,"c":47950},
{"b":462,"o":47950,"h":48090,"l":47710,"c":47800},
{"b":463,"o":47800,"h":48060,"l":47500,"c":47650},
{"b":464,"o":47650,"h":47720,"l":47390,"c":47500},
{"b":465,"o":47500,"h":47740,"l":47500,"c":47520},
{"b":466,"o":47520,"h":47550,"l":46910,"c":47050},
{"b":467,"o":47050,"h":47390,"l":46880,"c":47150},
{"b":468,"o":47150,"h":47420,"l":46800,"c":47300},
{"b":469,"o":47150,"h":47180,"l":46500,"c":46700},
{"b":470,"o":46970,"h":47370,"l":46960,"c":47350},
{"b":471,"o":47350,"h":48010,"l":47340,"c":47980},
{"b":472,"o":47980,"h":48440,"l":47960,"c":48100},
{"b":473,"o":48100,"h":48390,"l":47500,"c":47610},
{"b":474,"o":47610,"h":47610,"l":47180,"c":47310},
{"b":475,"o":47310,"h":47310,"l":46880,"c":46900},
{"b":476,"o":46660,"h":46670,"l":46420,"c":46430},
{"b":477,"o":46290,"h":46290,"l":45910,"c":45950},
{"b":478,"o":46300,"h":46320,"l":46160,"c":46200},
{"b":479,"o":46200,"h":46880,"l":45880,"c":46000},
{"b":480,"o":46000,"h":46320,"l":45720,"c":45730},
{"b":481,"o":46110,"h":46610,"l":46100,"c":46350},
{"b":482,"o":46350,"h":47180,"l":46340,"c":47100},
{"b":483,"o":47390,"h":47580,"l":47390,"c":47500},
{"b":484,"o":47400,"h":47450,"l":47340,"c":47420},
{"b":485,"o":47420,"h":47740,"l":47280,"c":47700},
{"b":486,"o":47470,"h":47480,"l":47200,"c":47450},
{"b":487,"o":47480,"h":47720,"l":47470,"c":47680},
{"b":488,"o":47680,"h":48040,"l":47660,"c":47950},
{"b":489,"o":47950,"h":48040,"l":47720,"c":47800},
{"b":490,"o":47830,"h":48120,"l":47820,"c":48020},
{"b":491,"o":47950,"h":47960,"l":47720,"c":47800},
{"b":492,"o":47800,"h":47820,"l":47480,"c":47500},
{"b":493,"o":47500,"h":47560,"l":47450,"c":47470},
{"b":494,"o":47800,"h":48770,"l":47800,"c":48680},
{"b":495,"o":48680,"h":48840,"l":48360,"c":48400},
{"b":496,"o":48400,"h":48680,"l":48280,"c":48500},
{"b":497,"o":48460,"h":48470,"l":48280,"c":48400},
{"b":498,"o":48360,"h":48360,"l":47880,"c":48100},
{"b":499,"o":48060,"h":48060,"l":47850,"c":48000},
{"b":500,"o":48000,"h":48120,"l":47770,"c":48050},
{"b":501,"o":48210,"h":48390,"l":48200,"c":48300},
{"b":502,"o":48340,"h":48490,"l":48340,"c":48450},
{"b":503,"o":48530,"h":48740,"l":48520,"c":48700},
{"b":504,"o":48700,"h":48760,"l":48550,"c":48650},
{"b":505,"o":48460,"h":48470,"l":48390,"c":48430},
{"b":506,"o":48430,"h":48440,"l":48300,"c":48400},
{"b":507,"o":48390,"h":48390,"l":48170,"c":48350},
{"b":508,"o":48350,"h":48360,"l":47820,"c":48330},
{"b":509,"o":48330,"h":49170,"l":48300,"c":49000},
{"b":510,"o":49000,"h":49490,"l":48840,"c":49400},
{"b":511,"o":49400,"h":49600,"l":48820,"c":49320},
{"b":512,"o":49320,"h":49330,"l":48760,"c":49100},
{"b":513,"o":49100,"h":49490,"l":49060,"c":49400},
{"b":514,"o":49400,"h":49650,"l":49000,"c":49300},
{"b":515,"o":49090,"h":49090,"l":48840,"c":49000},
{"b":517,"o":49230,"h":49600,"l":49220,"c":49500},
{"b":518,"o":49400,"h":49410,"l":49090,"c":49150},
{"b":519,"o":49000,"h":49000,"l":48630,"c":48800},
{"b":520,"o":48800,"h":49000,"l":48600,"c":48700},
{"b":521,"o":48700,"h":49270,"l":48340,"c":49200},
{"b":522,"o":49200,"h":49620,"l":48840,"c":49450},
{"b":523,"o":49430,"h":49430,"l":48900,"c":49300},
{"b":524,"o":49300,"h":49520,"l":48710,"c":49100},
{"b":525,"o":49050,"h":49060,"l":48950,"c":49000},
{"b":526,"o":49000,"h":49170,"l":48820,"c":49050},
{"b":527,"o":49050,"h":49300,"l":48600,"c":49250},
{"b":528,"o":48880,"h":48900,"l":48650,"c":48700},
{"b":529,"o":48700,"h":49490,"l":48410,"c":49300},
{"b":530,"o":49300,"h":49680,"l":49250,"c":49450},
{"b":531,"o":49450,"h":49680,"l":49170,"c":49370},
{"b":532,"o":48780,"h":48790,"l":48630,"c":48780},
{"b":533,"o":48650,"h":50130,"l":48630,"c":50050},
{"b":534,"o":50050,"h":50270,"l":49870,"c":50130},
{"b":535,"o":50130,"h":50513,"l":49890,"c":50260},
{"b":536,"o":50260,"h":50513,"l":50160,"c":50200},
{"b":537,"o":50200,"h":50460,"l":49730,"c":49750},
{"b":538,"o":49750,"h":49760,"l":49090,"c":49450},
{"b":539,"o":49450,"h":49760,"l":49410,"c":49500},
{"b":540,"o":49500,"h":49730,"l":49460,"c":49550},
{"b":541,"o":49550,"h":49890,"l":49190,"c":49500},
{"b":542,"o":49500,"h":49730,"l":49170,"c":49600},
{"b":543,"o":49600,"h":49700,"l":49250,"c":49500},
{"b":544,"o":49170,"h":49170,"l":48740,"c":48800},
{"b":545,"o":48800,"h":49270,"l":48760,"c":49100},
{"b":546,"o":49100,"h":49520,"l":49090,"c":49300},
{"b":547,"o":49300,"h":49810,"l":49250,"c":49300},
{"b":548,"o":49090,"h":49090,"l":48660,"c":48850},
{"b":549,"o":48850,"h":49060,"l":48120,"c":48420},
{"b":550,"o":48420,"h":48840,"l":47610,"c":48350},
{"b":551,"o":48350,"h":48840,"l":48200,"c":48320},
{"b":552,"o":48320,"h":48840,"l":47550,"c":47700},
{"b":553,"o":47700,"h":48060,"l":46960,"c":47400},
{"b":554,"o":47400,"h":47870,"l":46290,"c":47680},
{"b":555,"o":47680,"h":48200,"l":47420,"c":47700},
{"b":556,"o":47700,"h":47900,"l":47180,"c":47300},
{"b":557,"o":47260,"h":47260,"l":47070,"c":47200},
{"b":558,"o":47090,"h":47090,"l":46400,"c":46700},
{"b":559,"o":46700,"h":47180,"l":46370,"c":46900},
{"b":560,"o":46900,"h":47390,"l":46750,"c":46980},
{"b":561,"o":46980,"h":47280,"l":46080,"c":46990},
{"b":562,"o":46290,"h":46290,"l":45720,"c":46070},
{"b":563,"o":46070,"h":46070,"l":45320,"c":45700},
{"b":564,"o":45700,"h":46880,"l":45130,"c":46220},
{"b":565,"o":46220,"h":46580,"l":45780,"c":46400},
{"b":566,"o":46400,"h":46720,"l":46050,"c":46300},
{"b":567,"o":46300,"h":46530,"l":45880,"c":46150},
{"b":568,"o":46150,"h":46210,"l":45000,"c":45060},
{"b":569,"o":45060,"h":45640,"l":44780,"c":45100},
{"b":570,"o":45100,"h":46370,"l":45020,"c":45190},
{"b":571,"o":45900,"h":46830,"l":45830,"c":46300},
{"b":572,"o":46300,"h":46580,"l":45830,"c":46400},
{"b":573,"o":46400,"h":46560,"l":46150,"c":46350},
{"b":574,"o":46350,"h":46830,"l":46150,"c":46800},
{"b":575,"o":46800,"h":46800,"l":46640,"c":46750},
{"b":576,"o":46750,"h":48060,"l":46640,"c":47900},
{"b":577,"o":47900,"h":48360,"l":47710,"c":48000},
{"b":578,"o":48000,"h":48300,"l":47980,"c":48100},
{"b":579,"o":47980,"h":47980,"l":47360,"c":47950},
{"b":580,"o":48170,"h":48630,"l":48170,"c":48200},
{"b":581,"o":48360,"h":48740,"l":48360,"c":48600},
{"b":582,"o":48570,"h":48570,"l":48360,"c":48500},
{"b":583,"o":48660,"h":49760,"l":48650,"c":49400},
{"b":584,"o":49400,"h":49620,"l":48950,"c":49450},
{"b":585,"o":49450,"h":49880,"l":49090,"c":49550},
{"b":586,"o":49550,"h":49650,"l":49220,"c":49300},
{"b":587,"o":49300,"h":49600,"l":48900,"c":49400},
{"b":588,"o":49400,"h":49430,"l":49110,"c":49300},
{"b":589,"o":49300,"h":49410,"l":49090,"c":49250},
{"b":590,"o":49250,"h":49410,"l":49060,"c":49200},
{"b":591,"o":49200,"h":49280,"l":48660,"c":48820},
{"b":592,"o":49060,"h":49810,"l":49050,"c":49700},
{"b":593,"o":49700,"h":50000,"l":49460,"c":49520},
{"b":594,"o":49520,"h":49710,"l":48950,"c":48990},
{"b":595,"o":49010,"h":49790,"l":49000,"c":49300},
{"b":596,"o":49450,"h":50030,"l":49440,"c":49950},
{"b":597,"o":49950,"h":50140,"l":49760,"c":49850},
{"b":598,"o":49850,"h":49870,"l":49510,"c":49650},
{"b":599,"o":49650,"h":49730,"l":49490,"c":49580},
{"b":600,"o":49580,"h":49790,"l":49420,"c":49780},
{"b":601,"o":49780,"h":49830,"l":49330,"c":49800},
{"b":602,"o":49800,"h":49810,"l":49460,"c":49790},
{"b":603,"o":49960,"h":50210,"l":49950,"c":50100},
{"b":604,"o":50070,"h":50080,"l":49380,"c":49480},
{"b":605,"o":49480,"h":49790,"l":49090,"c":49520},
{"b":606,"o":49520,"h":49790,"l":49270,"c":49780},
{"b":607,"o":49800,"h":50400,"l":49690,"c":50360},
{"b":608,"o":50360,"h":50700,"l":50320,"c":50340},
{"b":609,"o":50570,"h":51160,"l":50560,"c":51100},
{"b":610,"o":51100,"h":51160,"l":50560,"c":50750},
{"b":611,"o":50750,"h":51100,"l":50370,"c":50980},
{"b":612,"o":50820,"h":50830,"l":50380,"c":50700},
{"b":613,"o":50700,"h":51070,"l":50680,"c":50960},
{"b":614,"o":50960,"h":51320,"l":50600,"c":51040},
{"b":615,"o":51040,"h":51320,"l":50780,"c":51100},
{"b":616,"o":51100,"h":51370,"l":50780,"c":50800},
{"b":617,"o":50800,"h":51690,"l":50690,"c":50700},
{"b":618,"o":50700,"h":51750,"l":50670,"c":51600},
{"b":619,"o":51270,"h":51270,"l":50570,"c":50580},
{"b":620,"o":50580,"h":51270,"l":50220,"c":50700},
{"b":621,"o":50700,"h":50830,"l":49870,"c":49880},
{"b":622,"o":49880,"h":50970,"l":49700,"c":50550},
{"b":623,"o":50820,"h":51400,"l":50810,"c":51200},
{"b":624,"o":51220,"h":51940,"l":51210,"c":51700},
{"b":625,"o":51730,"h":52180,"l":51720,"c":52000},
{"b":626,"o":52000,"h":52260,"l":51380,"c":51590},
{"b":627,"o":51590,"h":51940,"l":51560,"c":51750},
{"b":628,"o":51620,"h":51620,"l":51370,"c":51460},
{"b":629,"o":51460,"h":51880,"l":51290,"c":51710},
{"b":630,"o":51710,"h":51880,"l":51290,"c":51720},
{"b":631,"o":51720,"h":52290,"l":51540,"c":51990},
{"b":632,"o":51990,"h":52720,"l":51830,"c":52100},
{"b":633,"o":52100,"h":52180,"l":51640,"c":51850},
{"b":634,"o":51850,"h":52340,"l":51800,"c":52270},
{"b":635,"o":52270,"h":52420,"l":52050,"c":52200},
{"b":636,"o":52200,"h":52770,"l":52050,"c":52260},
{"b":637,"o":52260,"h":52880,"l":52260,"c":52840},
{"b":638,"o":52840,"h":53070,"l":52770,"c":52840},
{"b":639,"o":52840,"h":53100,"l":52660,"c":53090},
{"b":640,"o":53090,"h":53340,"l":52770,"c":52900},
{"b":641,"o":52900,"h":52910,"l":52070,"c":52260},
{"b":642,"o":52260,"h":52580,"l":52230,"c":52450},
{"b":643,"o":52450,"h":52690,"l":52230,"c":52500},
{"b":644,"o":52500,"h":52850,"l":52340,"c":52560},
{"b":645,"o":52560,"h":52750,"l":52020,"c":52550},
{"b":646,"o":52550,"h":52850,"l":52450,"c":52700},
{"b":647,"o":52700,"h":52880,"l":52420,"c":52500},
{"b":648,"o":52500,"h":52530,"l":51970,"c":52150},
{"b":649,"o":52150,"h":52420,"l":51800,"c":51900},
{"b":650,"o":51920,"h":52370,"l":51910,"c":52200},
{"b":651,"o":52200,"h":52530,"l":51910,"c":52300},
{"b":652,"o":52300,"h":52310,"l":51560,"c":51720},
{"b":653,"o":51730,"h":52130,"l":51720,"c":51910},
{"b":654,"o":51920,"h":52610,"l":51910,"c":52250},
{"b":655,"o":52250,"h":52930,"l":52150,"c":52270},
{"b":656,"o":52270,"h":52880,"l":51480,"c":51570},
{"b":657,"o":51600,"h":52340,"l":51590,"c":52300},
{"b":658,"o":52300,"h":52640,"l":51990,"c":52500},
{"b":659,"o":52510,"h":53280,"l":52500,"c":53270},
{"b":660,"o":53270,"h":54260,"l":53180,"c":54250},
{"b":661,"o":54270,"h":54770,"l":54260,"c":54451.1}
]
},
"layer":[
{"data":{"values":[{"b":-0.5,"b2":660.1,"p":54774,"p2":34680}]},
 "mark":{"type":"rect","fill":"#dee6fc"},
 "encoding":{
  "x":{"field":"b","type":"quantitative","title":null,"scale":{"domain":[-0.5,756.9],"nice":false,"zero":false},
   "axis":{"orient":"bottom","offset":-36,"domain":false,"ticks":false,"grid":false,"labelPadding":21,"labelBaseline":"middle","labelColor":"#c3c6cd","labelFontSize":16.5,"labelFont":"Inter","labelOverlap":false,"labelFlush":false,"labelBound":false,
    "values":[9,31,73,116,139,161,182,206,226,248,290,311,332,354,375,398,420,442,465,507,548,570,593,613,636,659,680,702,724],
    "labelFontWeight":{"condition":{"test":"datum.value==248||datum.value==507","value":"bold"},"value":"normal"},
    "labelExpr":"{'9':'Feb','31':'Mar','73':'Mayo','116':'Jul','139':'Ago','161':'Sep','182':'Oct','206':'Nov','226':'Dic','248':'2025','290':'Mar','311':'Abr','332':'Mayo','354':'Jun','375':'Jul','398':'Ago','420':'Sep','442':'Oct','465':'Nov','507':'2026','548':'Mar','570':'Abr','593':'Mayo','613':'Jun','636':'Jul','659':'Ago','680':'Sep','702':'Oct','724':'Nov'}[datum.value]"}},
  "x2":{"field":"b2"},
  "y":{"field":"p","type":"quantitative","title":null,"scale":{"domain":[34096,57000],"range":[1417,-1.9],"nice":false,"zero":false},
   "axis":{"orient":"right","offset":-83,"domain":false,"ticks":false,"grid":false,"labelPadding":0,"labelAlign":"left","labelColor":"#bcbfc6","labelFontSize":18,"labelFont":"Inter","labelOverlap":false,"labelFlush":false,"labelBound":false,
    "values":[35000,36000,37000,38000,39000,40000,41000,42000,43000,44000,46000,47000,48000,49000,50000,51000,52000,53000,54000,55000,56000,57000],
    "labelFontWeight":{"condition":{"test":"datum.value%5000==0","value":"bold"},"value":"normal"},
    "labelExpr":"format(datum.value/1000,'.0f')+'.000,0'"}},
  "y2":{"field":"p2"}}},
{"data":{"values":[{"b":639.7,"b2":661,"p":53354,"p2":51578}]},
 "mark":{"type":"rect","fill":"#2962ff","opacity":0.16},
 "encoding":{"x":{"field":"b","type":"quantitative","title":null,"scale":{"domain":[-0.5,756.9],"nice":false,"zero":false}},"x2":{"field":"b2"},
  "y":{"field":"p","type":"quantitative","title":null,"scale":{"domain":[34096,57000],"range":[1417,-1.9],"nice":false,"zero":false}},"y2":{"field":"p2"}}},
{"data":{"values":[{"b":660.1,"p":54430}]},
 "mark":{"type":"circle","size":12900,"fill":"#2962ff","opacity":0.16},
 "encoding":{"x":{"field":"b","type":"quantitative","title":null,"scale":{"domain":[-0.5,756.9],"nice":false,"zero":false}},
  "y":{"field":"p","type":"quantitative","title":null,"scale":{"domain":[34096,57000],"range":[1417,-1.9],"nice":false,"zero":false}}}},
{"data":{"values":[{"b":-0.5,"b2":347.4,"p":49605.2},{"b":379.4,"b2":728.5,"p":49605.2},{"b":-0.5,"b2":347.4,"p":45023.4},{"b":379.4,"b2":728.5,"p":45023.4}]},
 "mark":{"type":"rule","stroke":"#2962ff","strokeOpacity":0.33,"strokeWidth":2.6},
 "encoding":{"x":{"field":"b","type":"quantitative","title":null,"scale":{"domain":[-0.5,756.9],"nice":false,"zero":false}},"x2":{"field":"b2"},
  "y":{"field":"p","type":"quantitative","title":null,"scale":{"domain":[34096,57000],"range":[1417,-1.9],"nice":false,"zero":false}}}},
{"data":{"values":[{"b":639.7,"b2":661,"p":53354},{"b":639.7,"b2":661,"p":51578}]},
 "mark":{"type":"rule","stroke":"#2962ff","strokeOpacity":0.3,"strokeWidth":2.2},
 "encoding":{"x":{"field":"b","type":"quantitative","title":null,"scale":{"domain":[-0.5,756.9],"nice":false,"zero":false}},"x2":{"field":"b2"},
  "y":{"field":"p","type":"quantitative","title":null,"scale":{"domain":[34096,57000],"range":[1417,-1.9],"nice":false,"zero":false}}}},
{"data":{"values":[{"b":-0.5,"b2":712,"p":54451.1}]},
 "mark":{"type":"rule","stroke":"#131722","strokeWidth":1,"strokeDash":[1,2]},
 "encoding":{"x":{"field":"b","type":"quantitative","title":null,"scale":{"domain":[-0.5,756.9],"nice":false,"zero":false}},"x2":{"field":"b2"},
  "y":{"field":"p","type":"quantitative","title":null,"scale":{"domain":[34096,57000],"range":[1417,-1.9],"nice":false,"zero":false}}}},
{"data":{"values":[{"b":728.2,"b2":756.9,"p":34696}]},
 "mark":{"type":"rule","stroke":"#333333","strokeWidth":1.5},
 "encoding":{"x":{"field":"b","type":"quantitative","title":null,"scale":{"domain":[-0.5,756.9],"nice":false,"zero":false}},"x2":{"field":"b2"},
  "y":{"field":"p","type":"quantitative","title":null,"scale":{"domain":[34096,57000],"range":[1417,-1.9],"nice":false,"zero":false}}}},
{"data":{"name":"bars"},
 "mark":{"type":"rule","stroke":"#2a2e39","strokeWidth":1.2},
 "encoding":{"x":{"field":"b","type":"quantitative","title":null,"scale":{"domain":[-0.5,756.9],"nice":false,"zero":false}},
  "y":{"field":"l","type":"quantitative","title":null,"scale":{"domain":[34096,57000],"range":[1417,-1.9],"nice":false,"zero":false}},"y2":{"field":"h"}}},
{"data":{"name":"bars"},
 "mark":{"type":"tick","orient":"horizontal","size":3,"thickness":1,"xOffset":-1.5,"color":"#2a2e39","opacity":1},
 "encoding":{"x":{"field":"b","type":"quantitative","title":null,"scale":{"domain":[-0.5,756.9],"nice":false,"zero":false}},
  "y":{"field":"o","type":"quantitative","title":null,"scale":{"domain":[34096,57000],"range":[1417,-1.9],"nice":false,"zero":false}}}},
{"data":{"name":"bars"},
 "mark":{"type":"tick","orient":"horizontal","size":3,"thickness":1,"xOffset":1.5,"color":"#2a2e39","opacity":1},
 "encoding":{"x":{"field":"b","type":"quantitative","title":null,"scale":{"domain":[-0.5,756.9],"nice":false,"zero":false}},
  "y":{"field":"c","type":"quantitative","title":null,"scale":{"domain":[34096,57000],"range":[1417,-1.9],"nice":false,"zero":false}}}},
{"data":{"values":[{"b":1.6,"p":56646,"label":"US30 · Índice Dow Jones Industrial Average · 1D · FXCM"}]},
 "mark":{"type":"text","align":"left","baseline":"middle","font":"Inter","fontSize":16.5,"fontWeight":400,"color":"#b8bbc3"},
 "encoding":{"x":{"field":"b","type":"quantitative","title":null,"scale":{"domain":[-0.5,756.9],"nice":false,"zero":false}},
  "y":{"field":"p","type":"quantitative","title":null,"scale":{"domain":[34096,57000],"range":[1417,-1.9],"nice":false,"zero":false}},"text":{"field":"label"}}},
{"data":{"values":[{"b":12.8,"p":55452,"label":"TENDENCIA ALCISTA"},{"b":666.4,"p":55742,"label":"INTENTO RUPTURA"},{"b":666.4,"p":55436,"label":"ALCISTA"},{"b":609,"p":53580,"label":"RANGO LATERAL"},{"b":349.5,"p":49448,"label":"SOPORTE"},{"b":349.5,"p":44864,"label":"SOPORTE"}]},
 "mark":{"type":"text","align":"left","baseline":"alphabetic","font":"Inter","fontSize":19.4,"fontWeight":700,"color":"#2a4a86"},
 "encoding":{"x":{"field":"b","type":"quantitative","title":null,"scale":{"domain":[-0.5,756.9],"nice":false,"zero":false}},
  "y":{"field":"p","type":"quantitative","title":null,"scale":{"domain":[34096,57000],"range":[1417,-1.9],"nice":false,"zero":false}},"text":{"field":"label"}}},
{"data":{"values":[{"b":711.9,"b2":755.4,"p":54629,"p2":54225}]},
 "mark":{"type":"rect","fill":"#000000","cornerRadius":3},
 "encoding":{"x":{"field":"b","type":"quantitative","title":null,"scale":{"domain":[-0.5,756.9],"nice":false,"zero":false}},"x2":{"field":"b2"},
  "y":{"field":"p","type":"quantitative","title":null,"scale":{"domain":[34096,57000],"range":[1417,-1.9],"nice":false,"zero":false}},"y2":{"field":"p2"}}},
{"data":{"values":[{"b":728.2,"p":54629,"p2":54225}]},
 "mark":{"type":"rule","stroke":"#ffffff","strokeWidth":1},
 "encoding":{"x":{"field":"b","type":"quantitative","title":null,"scale":{"domain":[-0.5,756.9],"nice":false,"zero":false}},
  "y":{"field":"p","type":"quantitative","title":null,"scale":{"domain":[34096,57000],"range":[1417,-1.9],"nice":false,"zero":false}},"y2":{"field":"p2"}}},
{"data":{"values":[{"b":728.5,"b2":755.7,"p":49803,"p2":49383},{"b":728.5,"b2":755.7,"p":45219,"p2":44816}]},
 "mark":{"type":"rect","fill":"#2962ff","cornerRadius":2},
 "encoding":{"x":{"field":"b","type":"quantitative","title":null,"scale":{"domain":[-0.5,756.9],"nice":false,"zero":false}},"x2":{"field":"b2"},
  "y":{"field":"p","type":"quantitative","title":null,"scale":{"domain":[34096,57000],"range":[1417,-1.9],"nice":false,"zero":false}},"y2":{"field":"p2"}}},
{"data":{"values":[{"b":732.3,"p":54451.1,"label":"54.451,1"},{"b":732.3,"p":49605.2,"label":"49.605,2"},{"b":732.3,"p":45023.4,"label":"45.023,4"}]},
 "mark":{"type":"text","align":"left","baseline":"middle","font":"Inter","fontSize":18,"fontWeight":400,"color":"#ffffff"},
 "encoding":{"x":{"field":"b","type":"quantitative","title":null,"scale":{"domain":[-0.5,756.9],"nice":false,"zero":false}},
  "y":{"field":"p","type":"quantitative","title":null,"scale":{"domain":[34096,57000],"range":[1417,-1.9],"nice":false,"zero":false}},"text":{"field":"label"}}},
{"data":{"values":[{"b":720,"p":54451.1,"label":"US30"}]},
 "mark":{"type":"text","align":"center","baseline":"middle","font":"Inter","fontSize":16.5,"fontWeight":400,"color":"#ffffff"},
 "encoding":{"x":{"field":"b","type":"quantitative","title":null,"scale":{"domain":[-0.5,756.9],"nice":false,"zero":false}},
  "y":{"field":"p","type":"quantitative","title":null,"scale":{"domain":[34096,57000],"range":[1417,-1.9],"nice":false,"zero":false}},"text":{"field":"label"}}}
]
}
